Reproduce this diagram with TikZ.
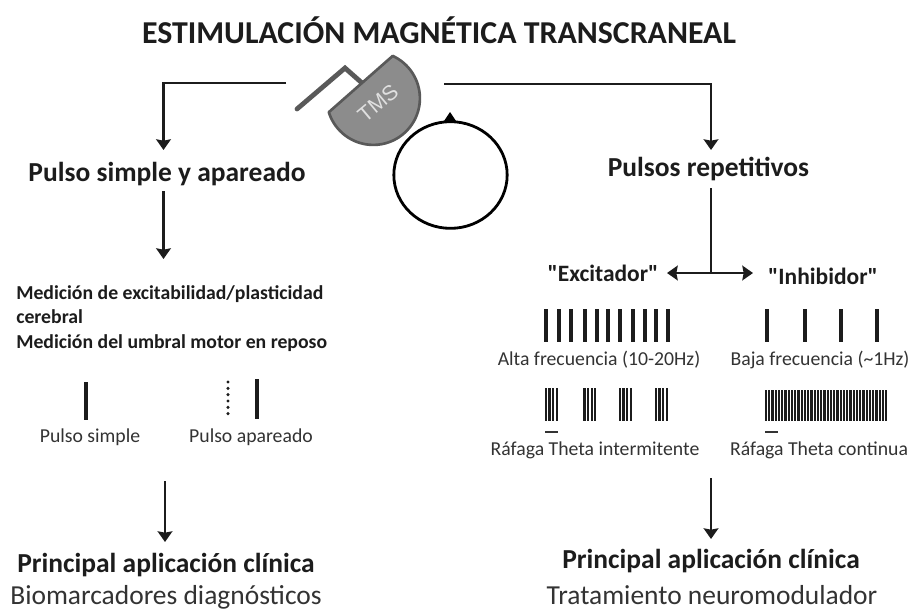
\documentclass[tikz,border=0pt]{standalone}
\usepackage{fontspec}
\setmainfont{Carlito}
\newfontfamily\plainfont{Carlito}
\newfontfamily\coilfont{Liberation Sans}
\usetikzlibrary{arrows.meta,shapes.geometric}
\definecolor{ink}{HTML}{1C1C1C}
\definecolor{soft}{HTML}{333333}
\tikzset{
  x=0.75pt, y=-0.75pt,
  label/.style={inner sep=0pt, text=soft, font=\fontsize{14.8pt}{17pt}\selectfont},
  heading/.style={inner sep=0pt, text=ink, font=\bfseries\fontsize{20.6pt}{24pt}\selectfont},
  outcome/.style={inner sep=0pt, text=soft, font=\fontsize{20.6pt}{24pt}\selectfont},
  branch/.style={inner sep=0pt, text=ink, font=\plainfont\bfseries\fontsize{17.6pt}{20pt}\selectfont},
  detail/.style={inner sep=0pt, text=ink, font=\bfseries\fontsize{14.8pt}{18.4pt}\selectfont, align=left, anchor=north west},
  conn/.style={draw=ink, line width=2.2pt, -{Stealth[length=8pt,width=11pt,inset=1pt]}},
  pulse/.style={draw=ink, line width=2.3pt},
  burst/.style={draw=ink, line width=1.7pt},
  scalebar/.style={draw=soft, line width=1.8pt},
}
\begin{document}
\begin{tikzpicture}
\useasboundingbox (0,0) rectangle (912,610);
\fill[white] (0,0) rectangle (912,610);

% Title
\node[inner sep=0pt, text=ink, font=\bfseries\fontsize{23.9pt}{26pt}\selectfont] (title) at (439,30) {ESTIMULACIÓN MAGNÉTICA TRANSCRANEAL};

% Coil with its handle
\draw[draw=black!65, line width=3.6pt, line cap=round, line join=miter] (297,109) -- (345,68) -- (362,83);
\draw[draw=black!65, fill=black!45, line width=2pt, line join=round]
  plot[domain=-65.4:162.7, samples=70] ({373.3+46.6*cos(\x)},{98.3+46.6*sin(\x)}) -- cycle;
\node[inner sep=0pt, rotate=40, text=black!12, font=\coilfont\fontsize{16pt}{18pt}\selectfont] (coil) at (378,103) {TMS};

% Head with nasion marker
\node[ellipse, draw=black, line width=2.1pt, minimum width=85pt, minimum height=80pt, inner sep=0pt] (head) at (450.5,175) {};
\fill[black] (450,112) -- (456,121) -- (444,121) -- cycle;

% Branch labels
\node[heading] (simple) at (167,174) {Pulso simple y apareado};
\node[heading] (rep) at (708.5,169) {Pulsos repetitivos};
\node[detail] (measure) at (16,285) {Medición de excitabilidad/plasticidad\\cerebral\\Medición del umbral motor en reposo};
\node[branch] (exc) at (603,273) {"Excitador"};
\node[branch] (inh) at (823,276) {"Inhibidor"};

% Left-hand pulses
\draw[pulse, line width=2.6pt] (86,382) -- (86,420);
\draw[draw=ink, line width=2.6pt, line cap=round, dash pattern=on 0pt off 4.75pt] (228,382) -- (228,420);
\draw[pulse, line width=2.6pt] (257,379) -- (257,419);
\node[label] (psimple) at (90,437) {Pulso simple};
\node[label] (pair) at (251,437) {Pulso apareado};

% High and low frequency trains
\foreach \px in {546,559,571,585,597,608,620,633,645,656,668}
  \draw[pulse] (\px,309) -- (\px,342);
\foreach \px in {767,805,841,877}
  \draw[pulse] (\px,309) -- (\px,342);
\node[label] (high) at (599,360) {Alta frecuencia (10-20Hz)};
\node[label] (low) at (820,360) {Baja frecuencia (\textasciitilde 1Hz)};

% Intermittent and continuous theta bursts
\foreach \gx in {546,584.5,620,656}
  \foreach \k in {0,1,2,3}
    \draw[burst] (\gx+\k*3.6,388) -- (\gx+\k*3.6,421);
\foreach \k in {0,...,37}
  \draw[burst] (766+\k*3.25,390) -- (766+\k*3.25,421);
\draw[scalebar] (545,432) -- (558,432);
\draw[scalebar] (765,432) -- (778,432);
\node[label] (itbs) at (595,450) {Ráfaga Theta intermitente};
\node[label] (ctbs) at (819,450) {Ráfaga Theta continua};

% Clinical application blocks
\node[heading] (clinL) at (166,565) {Principal aplicación clínica};
\node[outcome] (bioL) at (166,597) {Biomarcadores diagnósticos};
\node[heading] (clinR) at (711,561) {Principal aplicación clínica};
\node[outcome] (bioR) at (712,595) {Tratamiento neuromodulador};

% Free connector ends
\coordinate (coilL) at (286,83);
\coordinate (coilR) at (444,84);
\coordinate (splitL) at (165,481);
\coordinate (splitR) at (711,478);
\coordinate (stopL) at (163.5,150);
\coordinate (stopR) at (711,150);
\coordinate (stopM) at (163.5,259);
\coordinate (startM) at (163.5,191);
\coordinate (stemTop) at (711,188);
\coordinate (stemEnd) at (711,273);
\coordinate (stopLL) at (165,542);
\coordinate (stopRR) at (711,539);
\coordinate (tipE) at (667,273);
\coordinate (tipI) at (753,273);

% Connectors
\draw[conn] (coilL) -| (stopL);
\draw[conn] (coilR) -| (stopR);
\draw[conn] (startM) -- (stopM);
\draw[draw=ink, line width=2.2pt] (stemTop) -- (stemEnd);
\draw[conn, {Stealth[length=8pt,width=11pt,inset=1pt]}-{Stealth[length=8pt,width=11pt,inset=1pt]}] (tipE) -- (tipI);
\draw[conn] (splitL) -- (stopLL);
\draw[conn] (splitR) -- (stopRR);
\end{tikzpicture}
\end{document}
